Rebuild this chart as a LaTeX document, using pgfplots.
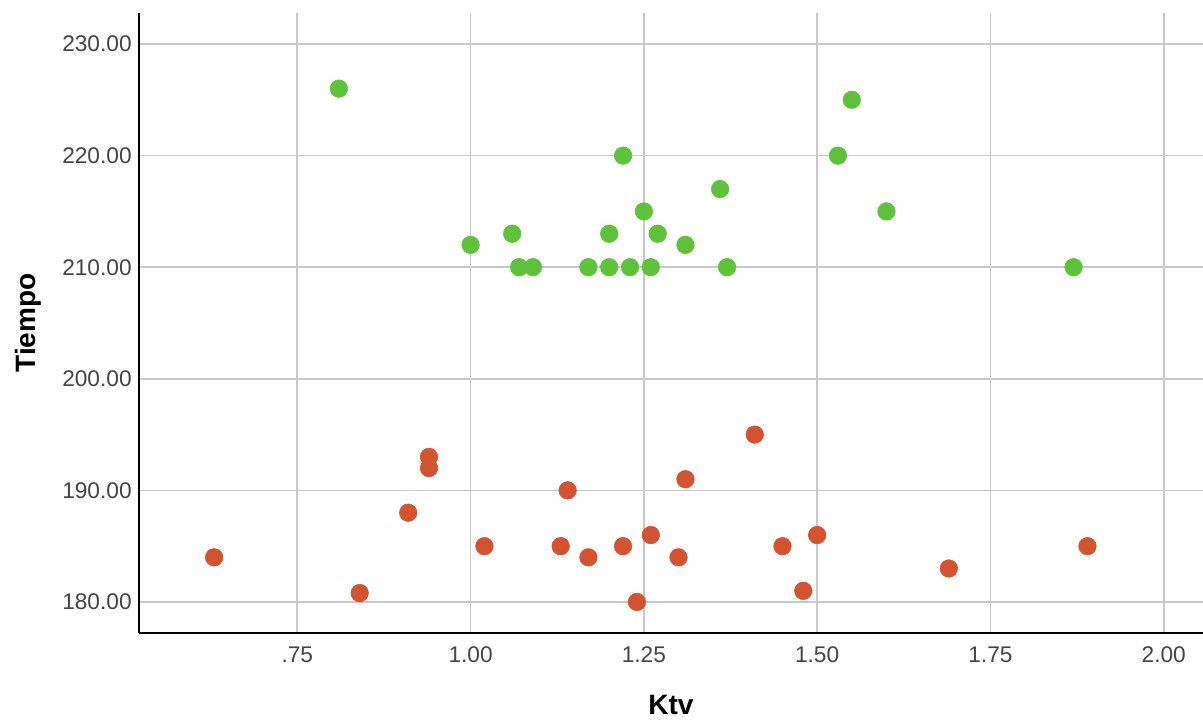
\documentclass[border=0pt]{standalone}
\usepackage{pgfplots}
\pgfplotsset{compat=1.18}
\usepackage{fontspec}
\setmainfont{Liberation Sans}
\definecolor{ptred}{HTML}{D35230}
\definecolor{ptgreen}{HTML}{5EC23A}
\definecolor{gridgray}{HTML}{C8C8C8}
\definecolor{ticktext}{HTML}{444444}
\begin{document}
\begin{tikzpicture}
\begin{axis}[
  scale only axis,
  width=798pt, height=465pt,
  xmin=0.5216, xmax=2.0567,
  ymin=177.22, ymax=232.78,
  axis lines*=left,
  axis line style={black, line width=1.4pt},
  xtick={0.75,1.00,1.25,1.50,1.75,2.00},
  xticklabels={.75,1.00,1.25,1.50,1.75,2.00},
  ytick={180,190,200,210,220,230},
  yticklabels={180.00,190.00,200.00,210.00,220.00,230.00},
  major tick length=0pt,
  grid=major,
  major grid style={gridgray, line width=1.3pt},
  tick label style={font=\fontsize{17}{20}\selectfont, text=ticktext},
  xticklabel style={yshift=-7pt},
  yticklabel style={xshift=-2pt},
  xlabel={\textbf{Ktv}},
  ylabel={\textbf{Tiempo}},
  every axis x label/.style={at={(axis description cs:0.5,0)}, anchor=base, yshift=-61pt, font=\fontsize{21}{24}\selectfont},
  every axis y label/.style={at={(axis description cs:-0.104,0.5)}, anchor=center, rotate=90, font=\fontsize{21}{24}\selectfont},
  clip=false,
]
\addplot[only marks, mark=*, mark size=6.6pt, color=ptgreen, mark options={draw=none, fill=ptgreen}] coordinates {
(0.81,226) (1.00,212) (1.06,213) (1.07,210) (1.09,210) (1.17,210)
(1.20,213) (1.20,210) (1.22,220) (1.23,210) (1.25,215) (1.26,210)
(1.27,213) (1.31,212) (1.36,217) (1.37,210) (1.53,220) (1.55,225)
(1.60,215) (1.87,210)
};
\addplot[only marks, mark=*, mark size=6.6pt, color=ptred, mark options={draw=none, fill=ptred}] coordinates {
(0.63,184) (0.84,180.8) (0.91,188) (0.94,193) (0.94,192) (1.02,185)
(1.13,185) (1.14,190) (1.17,184) (1.22,185) (1.24,180) (1.26,186)
(1.30,184) (1.31,191) (1.41,195) (1.45,185) (1.48,181) (1.50,186)
(1.69,183) (1.89,185)
};
\end{axis}
\pgfresetboundingbox
\path (current axis.south west) ++(-104.25pt,-64.5pt) rectangle ++(902.25pt,539.25pt);
\end{tikzpicture}
\end{document}
